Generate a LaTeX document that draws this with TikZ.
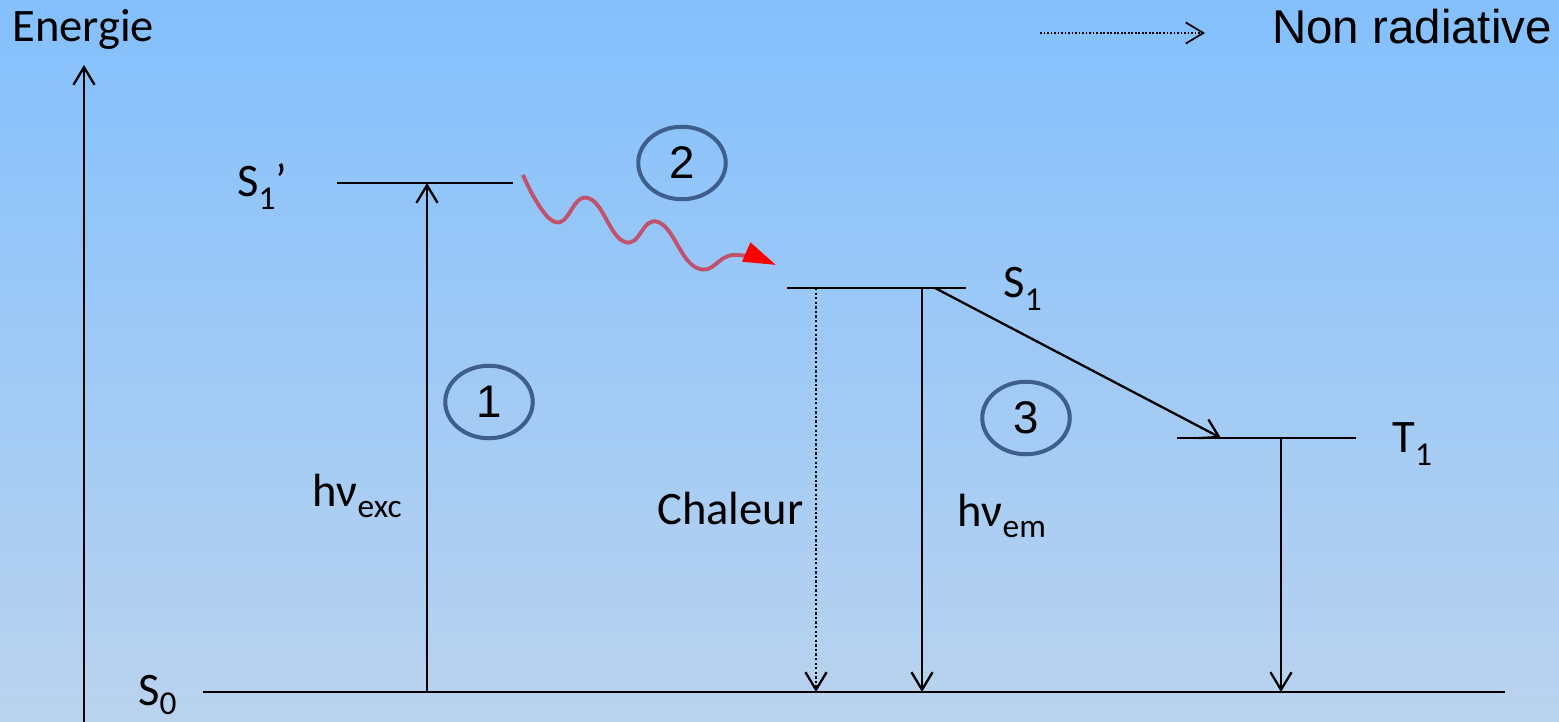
\documentclass[tikz,border=0pt]{standalone}
\usepackage{fontspec}
\setmainfont{Carlito}
\newfontfamily\arialfont{Liberation Sans}
\usetikzlibrary{arrows.meta, positioning, shapes.geometric}

\definecolor{skytop}{RGB}{132,192,253}
\definecolor{skybottom}{RGB}{186,211,238}
\definecolor{ringblue}{RGB}{62,95,140}
\definecolor{wavered}{RGB}{192,82,108}

\newcommand{\lvlsub}[2][7pt]{{\fontsize{19}{19}\selectfont\raisebox{-#1}{#2}}}

\begin{document}
\begin{tikzpicture}[x=0.02cm, y=-0.02cm,
  font=\fontsize{26.5}{30}\selectfont,
  every node/.style={inner sep=0pt},
  level/.style={line width=1.3pt},
  trans/.style={line width=1.3pt, -{Straight Barb[length=10pt, width=12pt]}},
  heat/.style={trans, dash pattern=on 1.3pt off 1.3pt},
  ring/.style={ellipse, draw=ringblue, line width=2.3pt, inner sep=0pt,
    minimum width=1.75cm, minimum height=1.45cm,
    font=\arialfont\fontsize{26}{30}\selectfont},
  wave/.style={wavered, line width=2.2pt,
    -{Triangle[length=0.65cm, width=0.4cm, color=red, fill=red]}}]

  % background
  \shade[top color=skytop, bottom color=skybottom] (0,0) rectangle (1559,722);
  \useasboundingbox (0,0) rectangle (1559,722);

  % energy axis
  \node[anchor=base west] (energie) at (12,42) {Energie};
  \coordinate (axisbot) at (84,722);
  \coordinate (axistop) at (84,65);
  \draw[trans] (axisbot) -- (axistop);

  % legend
  \coordinate (legl) at (1040,33);
  \coordinate (legr) at (1205,33);
  \draw[heat, line width=1pt, dash pattern=on 1pt off 1pt] (legl) -- (legr);
  \node[anchor=base west, font=\arialfont\fontsize{27}{30}\selectfont]
    (nonrad) at (1272,44) {Non radiative};

  % levels
  \coordinate (s0l) at (203,692);  \coordinate (s0r) at (1505,692);
  \coordinate (s1pl) at (337,183); \coordinate (s1pr) at (513,183);
  \coordinate (s1l) at (787,288);  \coordinate (s1r) at (966,288);
  \coordinate (t1l) at (1177,438); \coordinate (t1r) at (1356,438);
  \draw[level] (s0l) -- (s0r);
  \draw[level] (s1pl) -- (s1pr);
  \draw[level] (s1l) -- (s1r);
  \draw[level] (t1l) -- (t1r);

  \node[anchor=base west] (s0lab) at (138,705) {S\lvlsub[5.5pt]{0}};
  \node[anchor=base west] (s1plab) at (237,197) {S\lvlsub{1}’};
  \node[anchor=base west] (s1lab) at (1003,298) {S\lvlsub{1}};
  \node[anchor=base west] (t1lab) at (1392,453) {T\lvlsub{1}};

  % 1 : absorption
  \coordinate (excbot) at (427,692);
  \coordinate (exctop) at (427,183);
  \draw[trans] (excbot) -- (exctop);
  \node[anchor=base west] (hvexc) at (312,507) {hν\lvlsub[6pt]{exc}};
  \node[ring] (one) at (489,402) {1};

  % 2 : relaxation
  \coordinate (wavestart) at (523,175);
  \coordinate (waveend) at (776,265);
  \draw[wave] plot[smooth, tension=0.8] coordinates {(wavestart) (555,222)
    (588,198) (625,242) (658,222) (697,268) (734,255) (waveend)};
  \node[ring] (two) at (682,163) {2};

  % 3 : de-excitation
  \coordinate (heattop) at (816,288);
  \coordinate (heatbot) at (816,692);
  \draw[heat] (heattop) -- (heatbot);
  \node[anchor=base west] (chaleur) at (657,525) {Chaleur};

  \coordinate (emtop) at (922,288);
  \coordinate (embot) at (922,692);
  \draw[trans] (emtop) -- (embot);
  \node[anchor=base west] (hvem) at (957,527) {hν\lvlsub[6pt]{em}};
  \node[ring] (three) at (1026,418) {3};

  \coordinate (iscfrom) at (935,288);
  \coordinate (iscto) at (1221,438);
  \draw[trans] (iscfrom) -- (iscto);

  \coordinate (phostop) at (1281,438);
  \coordinate (phosbot) at (1281,692);
  \draw[trans] (phostop) -- (phosbot);
\end{tikzpicture}
\end{document}
